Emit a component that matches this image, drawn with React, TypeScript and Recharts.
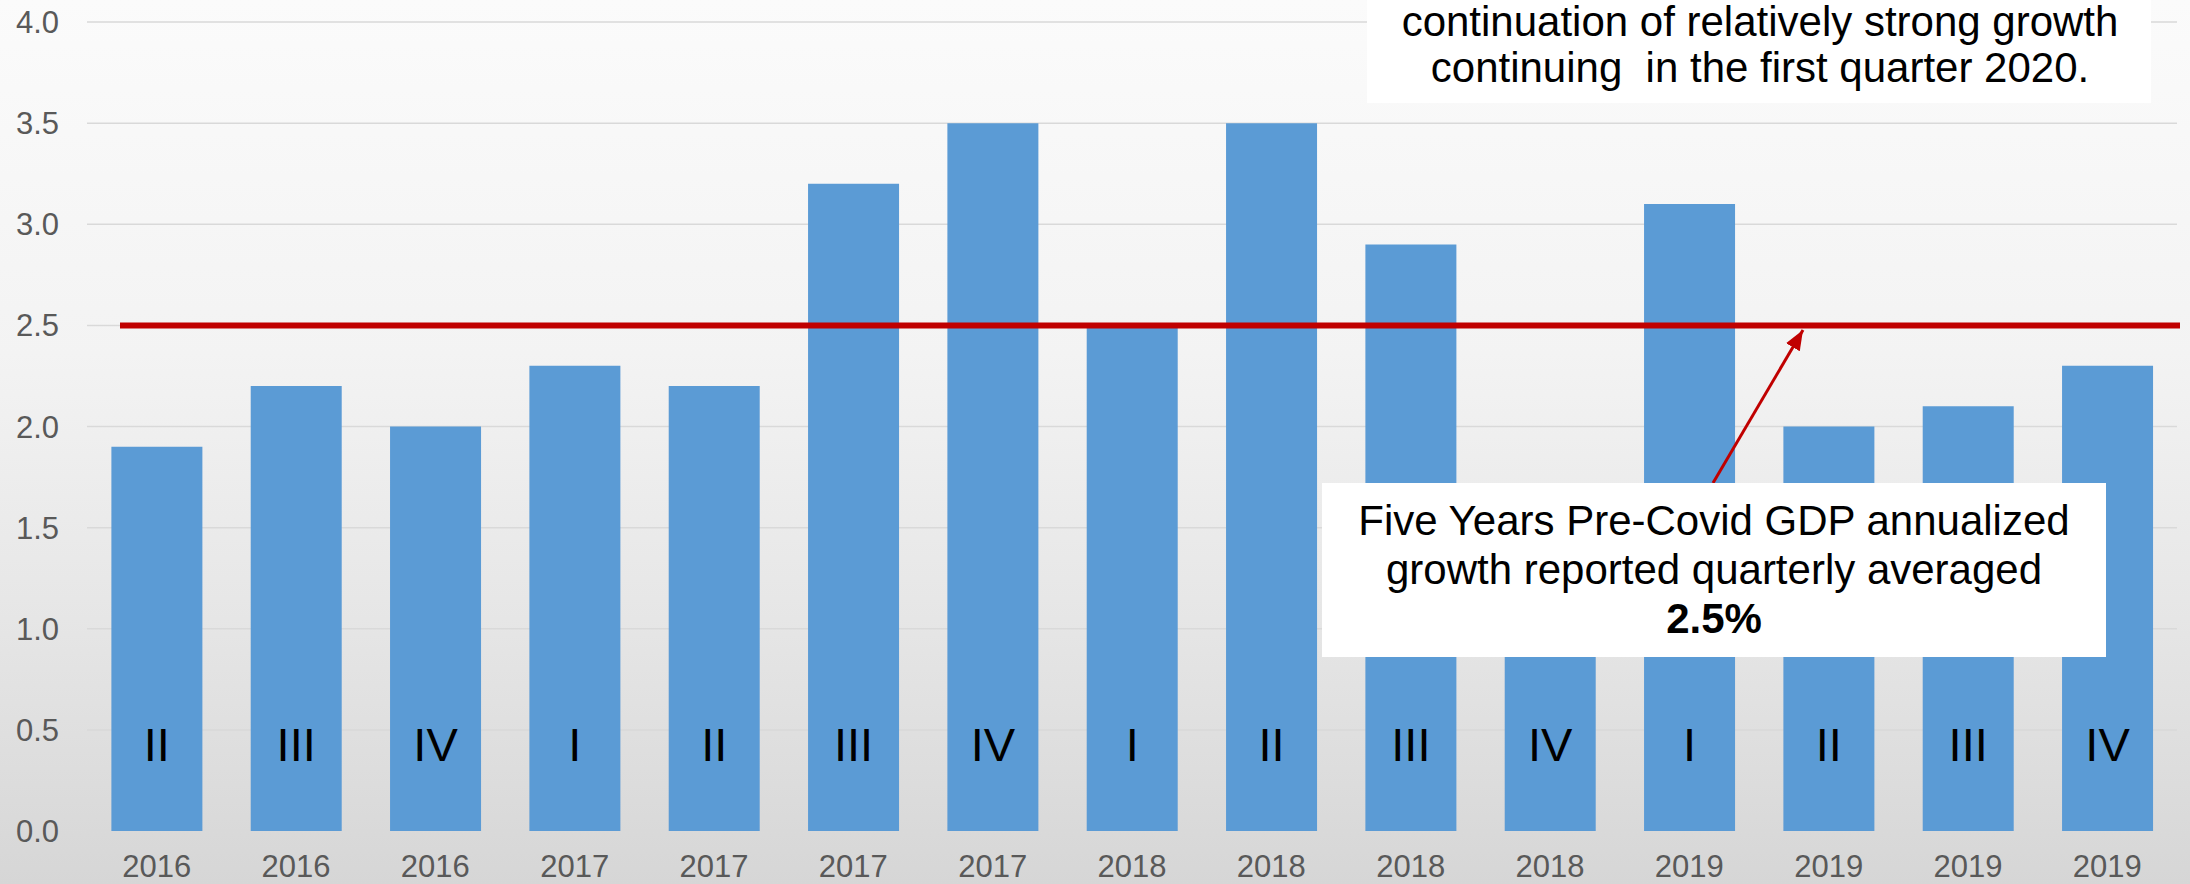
import { BarChart, Bar, XAxis, YAxis, CartesianGrid, ReferenceLine, LabelList } from "recharts";

const years = ["2016", "2016", "2016", "2017", "2017", "2017", "2017", "2018", "2018", "2018", "2018", "2019", "2019", "2019", "2019"];
const quarters = ["II", "III", "IV", "I", "II", "III", "IV", "I", "II", "III", "IV", "I", "II", "III", "IV"];
const growth = [1.9, 2.2, 2.0, 2.3, 2.2, 3.2, 3.5, 2.5, 3.5, 2.9, 1.1, 3.1, 2.0, 2.1, 2.3];
const yTicks = [0, 0.5, 1, 1.5, 2, 2.5, 3, 3.5, 4];
const average = 2.5;

const topNote = ["continuation of relatively strong growth", "continuing  in the first quarter 2020."];
const boxNote = ["Five Years Pre-Covid GDP annualized", "growth reported quarterly averaged"];

const data = years.map((y, i) => ({ key: `${y}-${i}`, year: y, quarter: quarters[i], value: growth[i] }));

const FONT = "'Liberation Sans', Arial, sans-serif";
const RED = "#C00000";

const QuarterLabel = (props: any) => {
  const { x, y, width, height, value } = props;
  return (
    <text x={x + width / 2} y={y + height - 70} textAnchor="middle" fontSize={47} fontFamily={FONT} fill="#000">
      {value}
    </text>
  );
};

const AvgLine = (props: any) => {
  const { x1, y1, x2, y2 } = props;
  return <line x1={x1 + 33} y1={y1} x2={x2 + 3} y2={y2} stroke={RED} strokeWidth={6} />;
};

export default function App() {
  return (
    <div
      style={{
        position: "relative",
        width: 2190,
        height: 884,
        background: "linear-gradient(to bottom, #fbfbfb 0%, #f3f3f3 40%, #e6e6e6 70%, #d6d6d6 100%)",
        fontFamily: FONT,
      }}
    >
      <style>{"body{margin:0}"}</style>
      <BarChart width={2190} height={884} data={data} margin={{ top: 22, right: 13, left: 0, bottom: 0 }} barCategoryGap="17.5%">
        <CartesianGrid vertical={false} stroke="#d9d9d9" strokeWidth={1.5} />
        <XAxis
          dataKey="key"
          height={53}
          interval={0}
          axisLine={false}
          tickLine={false}
          tickSize={0}
          tickMargin={24}
          tickFormatter={(v: string) => v.split("-")[0]}
          tick={{ fontSize: 31, fill: "#595959", fontFamily: FONT }}
        />
        <YAxis
          width={87}
          domain={[0, 4]}
          ticks={yTicks}
          axisLine={false}
          tickLine={false}
          tickSize={0}
          tickMargin={28}
          tickFormatter={(v: number) => v.toFixed(1)}
          tick={{ fontSize: 31, fill: "#595959", fontFamily: FONT }}
        />
        <Bar dataKey="value" fill="#5b9bd5" isAnimationActive={false}>
          <LabelList dataKey="quarter" content={QuarterLabel} />
        </Bar>
        <ReferenceLine y={average} ifOverflow="visible" shape={AvgLine} />
      </BarChart>
      <svg width={2190} height={884} style={{ position: "absolute", left: 0, top: 0, pointerEvents: "none" }}>
        <defs>
          <marker id="arrowHead" markerUnits="userSpaceOnUse" markerWidth={20} markerHeight={16} refX={20} refY={8} orient="auto">
            <path d="M0,0 L20,8 L0,16 Z" fill={RED} />
          </marker>
        </defs>
        <line x1={1713} y1={483} x2={1803} y2={330} stroke={RED} strokeWidth={3} markerEnd="url(#arrowHead)" />
        <rect x={1367} y={0} width={784} height={103} fill="#ffffff" />
        <text x={1760} textAnchor="middle" fontSize={42} fontFamily={FONT} fill="#000" style={{ whiteSpace: "pre" }}>
          <tspan x={1760} y={36}>{topNote[0]}</tspan>
          <tspan x={1760} y={82}>{topNote[1]}</tspan>
        </text>
        <rect x={1322} y={483} width={784} height={174} fill="#ffffff" />
        <text textAnchor="middle" fontSize={42} fontFamily={FONT} fill="#000">
          <tspan x={1714} y={535}>{boxNote[0]}</tspan>
          <tspan x={1714} y={584}>{boxNote[1]}</tspan>
          <tspan x={1714} y={633} fontWeight="bold">{`${average.toFixed(1)}%`}</tspan>
        </text>
      </svg>
    </div>
  );
}
